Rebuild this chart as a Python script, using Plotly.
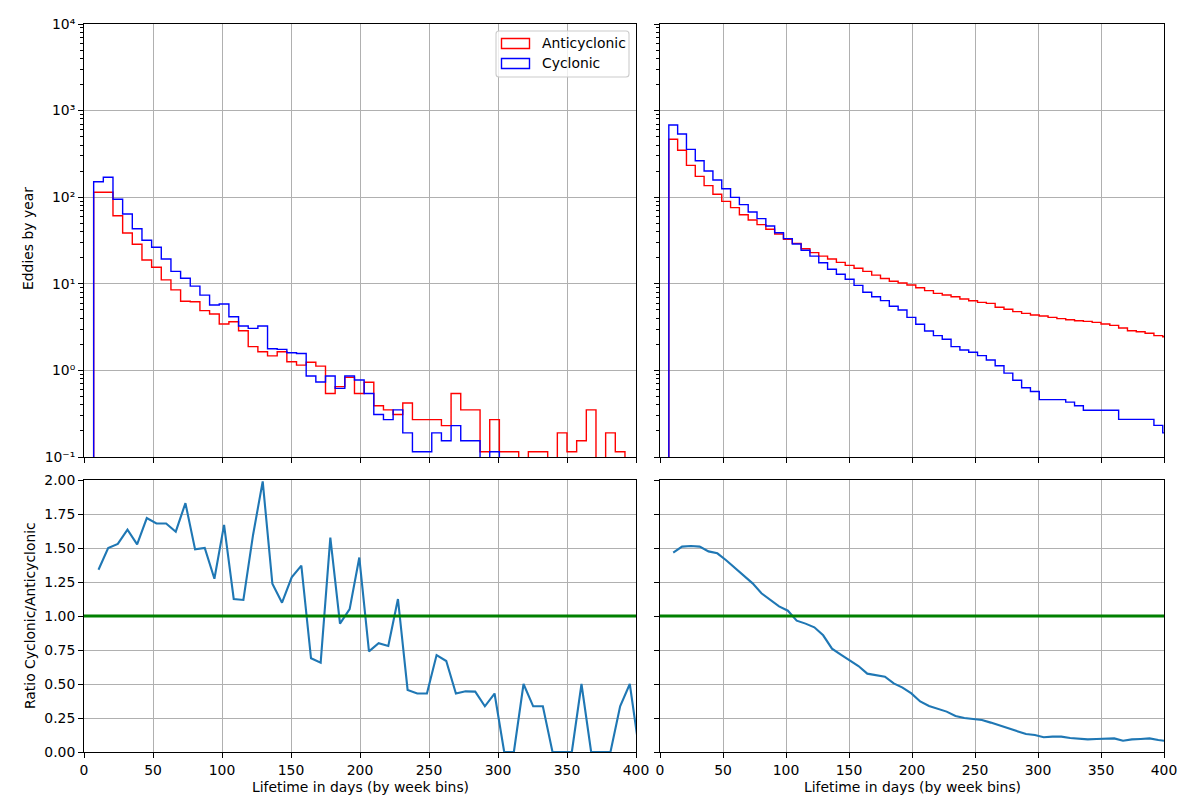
import numpy as np
import plotly.graph_objects as go

# ---------------- data ----------------
bin_start = 7      # first bin edge (days)
bin_width = 7      # week bins

anticyclonic_left = [114, 114, 61, 38.6, 28.6, 18.8, 15.5, 11.1, 8.5, 6.3,
                     6.2, 4.9, 4.48, 3.43, 3.65, 2.87, 1.88, 1.64, 1.47, 1.64,
                     1.26, 1.15, 1.24, 1.12, 0.54, 0.65, 0.83, 0.54, 0.73, 0.39,
                     0.35, 0.31, 0.42, 0.27, 0.27, 0.27, 0.23, 0.54, 0.35, 0.35,
                     0.115, 0.27, 0.115, 0.115, 0.077, 0.115, 0.115, 0.038, 0.19, 0.115,
                     0.154, 0.35, 0.038, 0.19, 0.115, 0.077, 0.077]
cyclonic_left = [151, 170, 94.6, 64, 43.3, 31.8, 26.4, 19.3, 13.9, 11.6,
                 9.4, 7.4, 5.7, 5.85, 4.17, 3.26, 3.06, 3.26, 1.78, 1.75,
                 1.6, 1.57, 0.86, 0.735, 0.86, 0.62, 0.86, 0.775, 0.54, 0.31,
                 0.27, 0.35, 0.19, 0.115, 0.115, 0.19, 0.154, 0.23, 0.154, 0.154,
                 0.038, 0.115, 0, 0, 0.038, 0.038, 0.038, 0, 0, 0,
                 0.077, 0, 0, 0, 0.038, 0.038, 0]
anticyclonic_right = [466, 348, 233, 174, 136, 108, 89.6, 75.7, 62.8, 54.5,
                      48.2, 42.6, 37.6, 32.6, 29.3, 25.4, 22.9, 20.9, 19.3, 17.7,
                      16.3, 15.1, 13.9, 12.6, 11.5, 10.7, 10.2, 9.69, 9.02, 8.33,
                      7.76, 7.42, 7.10, 6.67, 6.38, 6.11, 5.95, 5.35, 5.08, 4.77,
                      4.56, 4.36, 4.25, 4.10, 3.96, 3.85, 3.75, 3.68, 3.59, 3.43,
                      3.31, 3.09, 2.87, 2.80, 2.68, 2.52, 2.45]
cyclonic_right = [682, 537, 357, 264, 201, 158, 125, 99.6, 82, 67.5,
                  56.5, 46.5, 38.9, 33.2, 28.8, 24.4, 20.9, 17.5, 14.7, 12.9,
                  11.3, 9.6, 8.0, 7.1, 6.4, 5.5, 4.98, 4.10, 3.41, 2.85,
                  2.52, 2.29, 1.88, 1.72, 1.62, 1.48, 1.32, 1.13, 0.93, 0.77,
                  0.63, 0.57, 0.46, 0.46, 0.46, 0.43, 0.39, 0.346, 0.346, 0.346,
                  0.346, 0.272, 0.272, 0.272, 0.272, 0.232, 0.19]
ratio_left = [1.34, 1.50, 1.53, 1.635, 1.527, 1.72, 1.68, 1.68, 1.62, 1.83,
              1.49, 1.50, 1.274, 1.67, 1.125, 1.118, 1.596, 1.99, 1.238, 1.098,
              1.284, 1.37, 0.689, 0.657, 1.576, 0.944, 1.05, 1.43, 0.74, 0.80,
              0.78, 1.125, 0.456, 0.43, 0.43, 0.713, 0.669, 0.43, 0.446, 0.444,
              0.336, 0.43, 0, 0, 0.5, 0.336, 0.336, 0, 0, 0,
              0.5, 0, 0, 0, 0.336, 0.5, 0]
ratio_right = [1.466, 1.51, 1.515, 1.51, 1.475, 1.461, 1.41, 1.355, 1.297, 1.24,
               1.167, 1.118, 1.071, 1.039, 0.966, 0.944, 0.917, 0.858, 0.760, 0.716,
               0.676, 0.632, 0.576, 0.564, 0.554, 0.505, 0.473, 0.431, 0.372, 0.338,
               0.316, 0.297, 0.265, 0.25, 0.243, 0.235, 0.216, 0.196, 0.172, 0.152,
               0.132, 0.125, 0.108, 0.113, 0.113, 0.103, 0.096, 0.093, 0.096, 0.10,
               0.10, 0.083, 0.093, 0.096, 0.10, 0.088, 0.08]

x_ticks = [0, 50, 100, 150, 200, 250, 300, 350, 400]
log_ticks = [0.1, 1, 10, 100, 1000, 10000]
log_ticktext = ["10\u207b\u00b9", "10\u2070", "10\u00b9", "10\u00b2", "10\u00b3", "10\u2074"]
ratio_ticks = [0, 0.25, 0.5, 0.75, 1.0, 1.25, 1.5, 1.75, 2.0]

# ---------------- helpers ----------------
W, H = 1200, 800
FONT = "DejaVu Sans"
FS = 13.9
RED = "#ff0000"
BLUE = "#0000ff"
FLOOR = 1e-3  # zero counts drawn below the log axis (clipped)

n_bins = len(anticyclonic_left)
edges = bin_start + bin_width * np.arange(n_bins + 1)
centers = (edges[:-1] + edges[1:]) / 2.0


def px(x):
    return x / W


def py(y):
    return 1 - y / H


def step_xy(values):
    v = np.asarray(values, dtype=float)
    v = np.where(v > 0, v, FLOOR)
    xs = np.concatenate([[edges[0]], edges, [edges[-1]]])
    ys = np.concatenate([[FLOOR], v, [v[-1]], [FLOOR]])
    return xs, ys


fig = go.Figure()

for series, color, xa, ya in [
    (anticyclonic_left, RED, "x", "y"),
    (cyclonic_left, BLUE, "x", "y"),
    (anticyclonic_right, RED, "x2", "y2"),
    (cyclonic_right, BLUE, "x2", "y2"),
]:
    xs, ys = step_xy(series)
    fig.add_trace(go.Scatter(x=xs, y=ys, mode="lines", line_shape="hv",
                             line=dict(color=color, width=1.4),
                             xaxis=xa, yaxis=ya, showlegend=False,
                             hoverinfo="skip"))

for ratio, xa, ya in [(ratio_left, "x3", "y3"), (ratio_right, "x4", "y4")]:
    fig.add_trace(go.Scatter(x=centers, y=ratio, mode="lines",
                             line=dict(color="#1f77b4", width=2.1),
                             xaxis=xa, yaxis=ya, showlegend=False))

axis_common = dict(showline=True, linecolor="black", linewidth=1.1, mirror=True,
                   ticks="outside", ticklen=4.9, tickwidth=1.1, tickcolor="black",
                   showgrid=True, gridcolor="#b0b0b0", gridwidth=1.1,
                   zeroline=False, automargin=False,
                   tickfont=dict(family=FONT, size=FS, color="black"))

xdom_l = [px(84), px(636)]
xdom_r = [px(660), px(1164)]
ydom_t = [py(457), py(24)]
ydom_b = [py(752), py(480)]

minor_log = [m * 10.0 ** e for e in range(-1, 4) for m in range(2, 10)]

xcommon = dict(axis_common, range=[0, 400], tickmode="array", tickvals=x_ticks)
ylog = dict(axis_common, type="log", range=[-1, 4], tickmode="array",
            tickvals=log_ticks, ticktext=log_ticktext,
            minor=dict(tickmode="array", tickvals=minor_log, ticks="outside",
                       ticklen=2.8, tickwidth=0.8, tickcolor="black", showgrid=False))
ylin = dict(axis_common, range=[0, 2], tickmode="array", tickvals=ratio_ticks,
            tickformat=".2f")

fig.update_layout(
    width=W, height=H, autosize=False,
    margin=dict(l=0, r=0, t=0, b=0, autoexpand=False),
    paper_bgcolor="white", plot_bgcolor="white",
    font=dict(family=FONT, size=FS, color="black"),
    xaxis=dict(xcommon, domain=xdom_l, anchor="y", showticklabels=False),
    yaxis=dict(ylog, domain=ydom_t, anchor="x"),
    xaxis2=dict(xcommon, domain=xdom_r, anchor="y2", showticklabels=False),
    yaxis2=dict(ylog, domain=ydom_t, anchor="x2", showticklabels=False),
    xaxis3=dict(xcommon, domain=xdom_l, anchor="y3"),
    yaxis3=dict(ylin, domain=ydom_b, anchor="x3"),
    xaxis4=dict(xcommon, domain=xdom_r, anchor="y4"),
    yaxis4=dict(ylin, domain=ydom_b, anchor="x4", showticklabels=False),
)

# reference line at ratio = 1
for xa, ya in [("x3", "y3"), ("x4", "y4")]:
    fig.add_shape(type="line", xref=f"{xa} domain", yref=ya, x0=0, x1=1, y0=1, y1=1,
                  line=dict(color="#008000", width=2.8), layer="above")

# axis titles
ann = dict(showarrow=False, xref="paper", yref="paper",
           font=dict(family=FONT, size=FS, color="black"))
fig.add_annotation(ann, text="Eddies by year", x=px(28), y=py(239), textangle=-90,
                   xanchor="center", yanchor="middle")
fig.add_annotation(ann, text="Ratio Cyclonic/Anticyclonic", x=px(30), y=py(616),
                   textangle=-90, xanchor="center", yanchor="middle")
fig.add_annotation(ann, text="Lifetime in days (by week bins)", x=px(360), y=py(787),
                   xanchor="center", yanchor="middle")
fig.add_annotation(ann, text="Lifetime in days (by week bins)", x=px(912), y=py(787),
                   xanchor="center", yanchor="middle")

# legend (matplotlib style: hollow patches inside a rounded frame)
x0, x1, y0, y1, r = 496, 629, 31, 77, 3
path = (f"M {px(x0 + r)},{py(y0)} L {px(x1 - r)},{py(y0)} Q {px(x1)},{py(y0)} {px(x1)},{py(y0 + r)} "
        f"L {px(x1)},{py(y1 - r)} Q {px(x1)},{py(y1)} {px(x1 - r)},{py(y1)} "
        f"L {px(x0 + r)},{py(y1)} Q {px(x0)},{py(y1)} {px(x0)},{py(y1 - r)} "
        f"L {px(x0)},{py(y0 + r)} Q {px(x0)},{py(y0)} {px(x0 + r)},{py(y0)} Z")
fig.add_shape(type="path", path=path, xref="paper", yref="paper",
              line=dict(color="#cccccc", width=1.1), fillcolor="rgba(255,255,255,0.8)",
              layer="above")
legend_items = [("Anticyclonic", RED, 43.5), ("Cyclonic", BLUE, 63.5)]
for label, color, yc in legend_items:
    fig.add_shape(type="rect", xref="paper", yref="paper",
                  x0=px(501.5), x1=px(529.5), y0=py(yc - 5), y1=py(yc + 5),
                  line=dict(color=color, width=1.4), fillcolor="rgba(0,0,0,0)",
                  layer="above")
    fig.add_annotation(ann, text=label, x=px(540), y=py(yc), xanchor="left",
                       yanchor="middle")

fig.write_html("out.html")
